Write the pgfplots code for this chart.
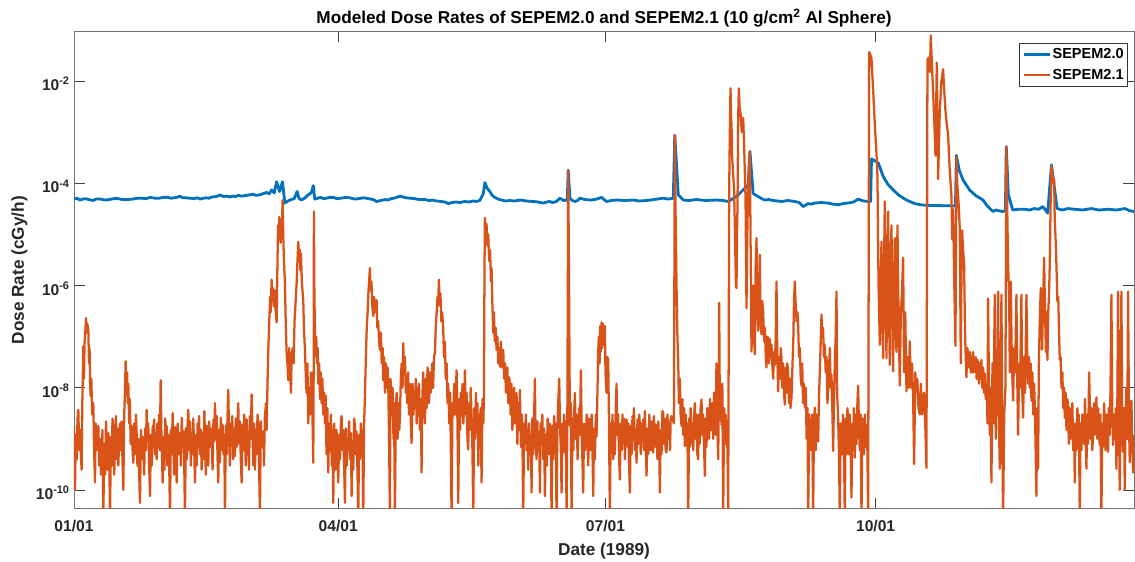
\documentclass[border=0pt]{standalone}
\usepackage{fontspec}
\setmainfont{Liberation Sans}
\usepackage{pgfplots}
\pgfplotsset{compat=1.18}
\definecolor{mblue}{RGB}{0,114,189}
\definecolor{morange}{RGB}{217,83,25}
\definecolor{txt}{RGB}{38,38,38}
\begin{document}
\begin{tikzpicture}
\begin{axis}[
  name=ax,
  scale only axis,
  width=795pt, height=357.75pt,
  xmin=0, xmax=361,
  ymode=log, ymin=4.3e-11, ymax=9.2e-2,
  xtick={0,90,181,273},
  xticklabels={01/01,04/01,07/01,10/01},
  ytick={1e-10,1e-8,1e-6,1e-4,1e-2},
  yticklabels={10\textsuperscript{-10},10\textsuperscript{-8},10\textsuperscript{-6},10\textsuperscript{-4},10\textsuperscript{-2}},
  yminorticks=false, xminorticks=false,
  tick align=inside,
  major tick length=8pt,
  axis line style={black!55, line width=0.6pt},
  every tick/.style={black!75, line width=0.6pt},
  tick label style={font=\fontsize{11.7}{14}\selectfont\bfseries, text=txt},
  x tick label style={anchor=base, yshift=-17.3pt},
  y tick label style={anchor=base east, inner sep=0pt, xshift=-3pt, yshift=-7.3pt},
  every axis title/.style={at={(axis description cs:0.5,1.0176)}, anchor=base, font=\fontsize{12.9}{15}\selectfont\bfseries, text=black},
  every axis x label/.style={at={(axis description cs:0.5,-0.097)}, anchor=base, font=\fontsize{12.9}{15}\selectfont\bfseries, text=txt},
  every axis y label/.style={at={(axis description cs:-0.0472,0.5)}, rotate=90, anchor=base, font=\fontsize{12.9}{15}\selectfont\bfseries, text=txt},
  title={Modeled Dose Rates of SEPEM2.0 and SEPEM2.1 (10 g/cm\textsuperscript{2} Al Sphere)},
  xlabel={Date (1989)},
  ylabel={Dose Rate (cGy/h)},
  legend style={at={(axis description cs:0.99434,0.97694)}, anchor=north east,
    draw=black!80, line width=0.5pt, fill=white,
    font=\fontsize{10.9}{13}\selectfont\bfseries, text=black,
    inner xsep=2pt, inner ysep=3pt, row sep=4.5pt,
    nodes={inner sep=1pt}},
  legend cell align=left,
  legend image code/.code={\draw[#1, line width=1.6pt] (0pt,0pt) -- (20pt,0pt);},
  line join=round,
]
\addplot[mblue, line width=2.1pt] coordinates {
(0,4.9e-5)(1,5.1e-5)(2,4.7e-5)(3,4.9e-5)(4,5.0e-5)(5,4.8e-5)(6.5,4.6e-5)(7.5,4.9e-5)(9,4.9e-5)(10.5,4.7e-5)(12,4.8e-5)(13.5,5.0e-5)(15,5.0e-5)(16.5,4.8e-5)(18,4.8e-5)
(20,4.9e-5)(21.5,5.1e-5)(23,5.1e-5)(24.5,5.0e-5)(26,5.3e-5)(27.5,5.1e-5)(29,5.1e-5)(30.5,5.3e-5)(32,5.3e-5)(33,5.1e-5)(34,5.2e-5)(35,5.3e-5)(36,5.6e-5)(37,5.2e-5)(38,5.2e-5)
(39.5,5.1e-5)(41,5.0e-5)(42,5.2e-5)(43,4.9e-5)(44,5.1e-5)(45,5.2e-5)(46,5.1e-5)(47,5.4e-5)(48.5,5.5e-5)(49.7,5.9e-5)(51,5.5e-5)(52,5.6e-5)(53,5.4e-5)(54,5.6e-5)(55,5.5e-5)(56,5.8e-5)
(57,5.6e-5)(58,5.7e-5)(59.5,5.9e-5)(61,6.1e-5)(62,5.8e-5)(63,5.9e-5)(64.3,6.2e-5)(65.6,6.6e-5)(66.5,6.2e-5)(67.3,7.4e-5)(68.2,6.5e-5)(69,1.07e-4)(70,6.9e-5)
(71,1.07e-4)(71.5,6.0e-5)(71.8,4.1e-5)(72.6,4.4e-5)(73.5,4.7e-5)(75,5.0e-5)(76,6.9e-5)(76.6,5.1e-5)(77.4,4.7e-5)(78.5,5.1e-5)(79.7,5.9e-5)
(80.8,6.5e-5)(81.5,9.0e-5)(82,4.9e-5)(83,5.1e-5)(84,5.3e-5)(85,5.0e-5)(86,5.1e-5)(87,5.3e-5)(88.3,5.3e-5)(89.5,5.0e-5)(91,5.1e-5)(92.5,5.3e-5)(94,5.2e-5)(95.5,4.9e-5)
(97,5.0e-5)(98.5,5.2e-5)(99.6,5.1e-5)(101,4.9e-5)(102,4.8e-5)(103,4.4e-5)(104.5,4.6e-5)(106,4.8e-5)(107,4.7e-5)(108,5.0e-5)(109.5,5.2e-5)(111,5.6e-5)(112,5.4e-5)(113,5.2e-5)(114.5,5.1e-5)
(116,5.0e-5)(117.5,4.8e-5)(119.5,4.8e-5)(121,4.6e-5)(122,4.7e-5)(123.5,4.5e-5)(125,4.4e-5)(126.3,4.3e-5)(127.5,4.0e-5)(128.7,4.2e-5)(130,4.3e-5)(131.5,4.2e-5)(133,4.4e-5)(134.5,4.3e-5)(136,4.5e-5)
(137,4.4e-5)(138.2,4.6e-5)(139.4,6.3e-5)(139.94,1.03e-4)(140.7,8.0e-5)(141.6,6.9e-5)(142.4,5.8e-5)(143.3,5.3e-5)(144.5,4.9e-5)(145.6,4.7e-5)(147,4.5e-5)(148.5,4.6e-5)(150,4.5e-5)(152,4.7e-5)
(154,4.5e-5)(156.4,4.4e-5)(158,4.3e-5)(159.8,4.1e-5)(161,4.3e-5)(162,4.4e-5)(163,4.2e-5)(164.3,4.4e-5)(165.5,5.1e-5)(166.7,4.6e-5)(168.0,4.7e-5)(168.3,1.8e-4)(168.9,5.1e-5)
(169.7,4.6e-5)(170.6,4.4e-5)(171.5,4.6e-5)(172.3,5.1e-5)(174,4.8e-5)(176,4.7e-5)(178,4.9e-5)(179.7,5.3e-5)(180.5,4.8e-5)(181.4,4.4e-5)(183,4.6e-5)(185,4.7e-5)(187.5,4.6e-5)(190.4,4.7e-5)(192.5,4.5e-5)(195,4.6e-5)
(197.5,4.8e-5)(200.7,5.1e-5)(202.5,4.9e-5)(204.1,5.1e-5)(204.6,8.7e-4)(205.8,5.9e-5)(207.5,4.7e-5)(209.5,4.6e-5)(212,4.8e-5)(215,4.6e-5)(218.8,4.7e-5)(221,4.6e-5)(222.8,4.4e-5)
(225.6,5.5e-5)(229.6,9.3e-5)(230.2,4.2e-4)(231.3,6.3e-5)(233,5.5e-5)(234.2,5.0e-5)(235.3,4.7e-5)(236.6,4.8e-5)(238,4.6e-5)(239.5,4.5e-5)(241,4.4e-5)(243,4.6e-5)
(245.5,4.4e-5)(247,4.2e-5)(248.3,3.5e-5)(250,4.0e-5)(251,3.9e-5)(252.3,4.1e-5)(254.5,4.2e-5)(256.8,4.1e-5)(258.5,3.9e-5)(260.2,3.8e-5)(262,4.0e-5)(263.6,4.1e-5)(265.5,4.3e-5)
(267.1,4.9e-5)(268.8,4.5e-5)(270.5,4.4e-5)(271.3,4.4e-5)(271.6,3.0e-4)(273.9,2.5e-4)(275.6,1.35e-4)(277.2,9.5e-5)(279,7.4e-5)(281,5.8e-5)(283.5,4.7e-5)
(286.3,4.0e-5)(288.3,3.8e-5)(290.3,3.7e-5)(300.2,3.6e-5)(300.5,3.5e-4)(301.5,1.8e-4)(302.8,1.15e-4)(305,7.4e-5)(307,5.8e-5)
(309.6,4.7e-5)(311,3.6e-5)(313,2.8e-5)(314,3.0e-5)(315,2.9e-5)(316.2,2.8e-5)(317.2,2.9e-5)(317.5,5.2e-4)(318.2,6.0e-5)(319.7,3.0e-5)
(321.5,3.1e-5)(323.8,3.1e-5)(325.5,3.0e-5)(327,3.2e-5)(328.5,3.1e-5)(330,3.5e-5)(331.6,2.6e-5)(332.9,2.3e-4)(334.8,3.2e-5)(336.5,3.0e-5)(338.5,3.2e-5)(340.8,3.1e-5)(343.5,3.0e-5)(346.5,3.2e-5)
(349,3.0e-5)(352.2,3.1e-5)(355,3.0e-5)(357.9,3.2e-5)(359.5,2.9e-5)(361,2.8e-5)
};
\addlegendentry{SEPEM2.0}
\addplot[morange, line width=1.7pt] coordinates {
(0,1.8e-9)(0.2,3e-10)(0.34,1.0e-10)(0.6,1.2e-9)(0.9,4e-10)(1.2,2.5e-9)(1.47,3.7e-9)(1.8,6e-10)(2.1,1.5e-9)(2.4,4e-10)(2.61,2.5e-10)(2.8,4e-9)
(3.18,6.5e-8)(3.4,1.5e-8)(3.6,8e-8)(3.85,1.2e-7)(4.09,2.3e-7)(4.3,1.2e-7)(4.5,1.8e-7)(4.88,1.4e-7)(5.1,3e-8)(5.3,6e-8)(5.5,1.2e-8)(5.67,6.8e-9)(5.9,1.5e-8)(6.2,3e-9)(6.58,5.0e-9)(6.8,8e-10)(7.15,1.4e-10)(7.4,2e-9)(7.7,6e-10)(8.0,1.2e-9)(8.29,1.8e-9)(8.6,3e-10)(8.9,1e-9)(9.2,2e-10)(9.42,4.0e-10)(9.7,1.5e-9)(9.99,3e-11)(10.3,8e-10)(10.6,2e-10)(10.9,2.2e-9)(11.12,9.8e-10)(11.4,2.5e-10)(11.7,1.3e-9)(12.0,5e-10)(12.26,3e-11)(12.6,1.1e-9)(12.9,3e-10)(13.1,2.5e-9)(13.39,1.8e-9)(13.7,2e-10)(14.0,9e-10)(14.3,2.8e-9)(14.53,4.0e-10)(14.8,1.6e-9)(15.1,3e-10)(15.4,1.1e-9)(15.66,2.0e-9)(15.9,6e-10)(16.2,2.2e-9)(16.5,4e-10)(16.80,1.0e-10)(17.1,3e-9)(17.35,8e-9)(17.59,3.3e-8)(17.8,1e-8)(18.1,2e-8)(18.3,5e-9)(18.50,1.2e-8)(18.8,2e-9)(19.0,6e-9)(19.3,8e-10)(19.63,1.8e-9)(19.9,7e-10)(20.2,3.4e-10)(20.5,2e-9)(20.8,5e-10)(21.1,3e-9)(21.34,1.3e-9)(21.6,3e-10)(21.9,1e-9)(22.2,2e-10)(22.47,5.6e-11)(22.8,1.5e-9)(23.1,4e-10)(23.4,1.1e-9)(23.61,8.3e-10)(23.9,2e-10)(24.2,1.6e-9)(24.5,6e-10)(24.74,3.7e-9)(25.0,9e-10)(25.3,2e-9)(25.6,3e-10)(25.88,7.6e-11)(26.2,1.2e-9)(26.5,3e-10)(26.8,1.8e-9)(27.01,7.2e-10)(27.3,2.4e-9)(27.6,5e-10)(27.9,1.3e-9)(28.15,4.0e-10)(28.4,2e-9)(28.7,7e-10)(29.0,3e-9)(29.25,6e-10)(29.51,1.4e-8)(29.8,1e-9)(30.0,4e-10)(30.19,1.4e-10)(30.5,1.1e-9)(30.8,2.5e-10)(31.1,2.5e-9)(31.3,6e-10)(31.55,1.8e-9)(31.8,3e-10)(32.1,1.2e-9)(32.4,4e-10)(32.69,3e-11)(33.0,1.5e-9)(33.3,5e-10)(33.6,3.2e-9)(33.82,8.3e-10)(34.1,2e-10)(34.4,1.7e-9)(34.7,6e-10)(34.96,1.4e-10)(35.3,2e-9)(35.6,5e-10)(35.9,1.2e-9)(36.09,1.3e-9)(36.4,3e-10)(36.7,2.6e-9)(37.0,7e-10)(37.3,1.4e-9)(37.55,3e-10)(37.79,3e-11)(38.1,1.6e-9)(38.4,4e-10)(38.7,2e-9)(38.93,3.7e-9)(39.2,6e-10)(39.5,2.2e-9)(39.8,3e-10)(40.06,1.1e-9)(40.3,5e-10)(40.6,2.5e-9)(40.9,8e-10)(41.2,1.4e-10)(41.5,1.2e-9)(41.8,3e-10)(42.1,2e-9)(42.33,8.3e-10)(42.6,2.8e-9)(42.9,5e-10)(43.2,1.5e-9)(43.47,2.5e-10)(43.8,1.3e-9)(44.1,4e-10)(44.4,3.5e-9)(44.6,1.1e-9)(44.9,2e-10)(45.2,1.8e-9)(45.5,6e-10)(45.74,3.0e-10)(46.0,2.2e-9)(46.3,7e-10)(46.6,1.6e-9)(46.87,8.3e-10)(47.2,2.5e-10)(47.5,2.4e-9)(47.8,9e-10)(48.01,5.0e-9)(48.3,1e-9)(48.6,2.8e-9)(48.9,4e-10)(49.14,1.4e-10)(49.4,1.5e-9)(49.7,3.5e-10)(50.0,2.6e-9)(50.28,6.2e-10)(50.6,1.9e-9)(50.9,5e-10)(51.2,1.2e-9)(51.41,3e-11)(51.7,1.8e-9)(52.0,5e-10)(52.3,3e-9)(52.55,9.1e-9)(52.8,1.2e-9)(53.1,3e-10)(53.4,2e-9)(53.68,8.3e-10)(53.9,2.8e-9)(54.2,4e-10)(54.5,1.6e-9)(54.82,4.6e-10)(55.1,2.5e-9)(55.4,7e-10)(55.7,1.8e-9)(55.95,5.0e-9)(56.2,8e-10)(56.5,2.2e-9)(56.8,4e-10)(57.09,1.4e-10)(57.4,1.9e-9)(57.7,6e-10)(58.0,3e-9)(58.22,1.1e-9)(58.5,3e-10)(58.8,2.4e-9)(59.1,9e-10)(59.36,8.3e-10)(59.6,2.5e-10)(59.9,2.8e-9)(60.2,1e-9)(60.49,7.4e-9)(60.8,1.2e-9)(61.1,3e-10)(61.4,2e-9)(61.63,2.5e-10)(61.9,1.5e-9)(62.2,5e-10)(62.5,3e-9)(62.76,1.8e-9)(63.0,4e-10)(63.33,3e-11)(63.6,2.2e-9)(63.9,7e-10)(64.2,1.4e-9)(64.46,1.3e-9)(64.7,3e-10)(65.0,2.6e-9)(65.37,5.0e-9)(65.6,1.5e-9)(65.9,1.2e-8)
(66.17,5.5e-8)(66.5,2e-7)(66.8,6e-7)(67.0,3e-7)(67.3,1.3e-6)(67.5,5e-7)(67.8,9e-7)(68.1,3.9e-7)(68.4,8e-7)(68.7,3e-7)(69.0,1.9e-7)(69.3,3e-6)(69.5,1.5e-5)(69.7,8e-6)(69.91,2.2e-5)(70.1,1e-5)(70.37,6.8e-6)(70.6,2e-5)(70.8,1.2e-5)(71.05,4.7e-5)(71.3,8e-6)(71.5,3e-6)(71.84,1.1e-6)(72.1,2e-7)(72.4,5e-8)(72.7,3e-8)(72.98,1.4e-8)(73.3,6e-8)(73.6,2e-8)(73.9,8e-9)(74.11,4.1e-8)(74.5,6e-8)(74.8,3e-8)(75.1,2e-7)(75.5,5e-7)(75.81,1.1e-6)(76.1,3e-6)(76.38,7.2e-6)(76.6,3e-6)(76.9,5e-6)(77.1,2e-6)(77.29,4.3e-6)(77.6,1.2e-6)(77.8,8e-7)(78.08,5.2e-7)(78.3,1.5e-7)(78.65,5.5e-8)(78.9,2e-8)(79.2,8e-9)(79.5,3e-8)(79.78,2.0e-9)(80.1,1e-8)(80.4,3e-9)(80.7,2e-8)(80.92,1.2e-8)(81.2,3e-9)(81.49,3.4e-10)(81.6,1e-8)(81.71,2.8e-5)(81.85,1e-6)(82.0,2e-7)(82.28,4.1e-8)(82.5,1e-7)(82.8,3e-8)(83.0,6e-8)(83.19,1.2e-8)(83.5,3e-8)(83.8,6e-9)(84.0,2e-8)(84.32,5.0e-9)(84.6,1.5e-8)(84.9,3e-9)(85.2,8e-9)(85.46,2.0e-9)(85.7,7e-9)(86.0,5e-10)(86.3,4e-9)(86.59,2.2e-10)(86.9,2e-9)(87.2,6e-10)(87.5,3e-9)(87.8,3e-10)(88.0,1.5e-9)(88.3,5.6e-11)(88.6,2e-9)(88.86,8.3e-10)(89.1,2.5e-10)(89.4,1.5e-9)(89.7,5e-10)(90.0,1.4e-10)(90.3,1.2e-9)(90.6,4e-10)(90.9,2e-9)(91.13,2.8e-9)(91.4,6e-10)(91.7,1.5e-9)(92.0,3e-10)(92.27,5.6e-11)(92.6,1.6e-9)(92.9,3e-10)(93.1,1e-9)(93.4,6.2e-10)(93.7,2.2e-9)(94.0,4e-10)(94.3,1.3e-9)(94.54,7.6e-11)(94.8,9e-10)(95.1,2.5e-10)(95.4,2.5e-9)(95.67,1.8e-9)(95.9,5e-10)(96.2,1.4e-9)(96.5,3e-10)(96.81,3e-11)(97.1,1.2e-9)(97.4,4e-10)(97.7,2e-9)(97.94,6.2e-10)(98.2,1.5e-9)(98.51,3e-11)(98.8,2e-9)(99.08,6.8e-9)(99.4,4e-8)(99.7,1.5e-7)(100.0,3e-7)(100.3,8e-7)(100.5,1.2e-6)(100.78,2.2e-6)(101.0,8e-7)(101.3,1.2e-6)(101.6,4e-7)(101.92,2.5e-7)(102.2,6e-7)(102.5,3e-7)(102.8,4e-7)(103.05,5.2e-7)(103.3,1.5e-7)(103.6,2e-7)(103.9,8e-8)(104.19,5.5e-8)(104.5,1.2e-7)(104.8,3e-8)(105.1,6e-8)(105.32,1.4e-8)(105.6,4e-8)(105.9,8e-9)(106.2,3e-8)(106.5,1e-8)(106.8,2.5e-8)(107.02,1.2e-8)(107.3,1e-9)(107.59,3e-11)(107.8,1.5e-8)(108.16,5.0e-9)(108.5,1e-8)(108.8,1e-9)(109.0,5e-9)(109.29,3e-11)(109.6,4e-9)(109.9,8e-9)(110.2,1e-9)(110.5,5e-9)(110.8,1.5e-9)(111.0,2.8e-9)(111.3,1.5e-8)(111.6,3e-8)(111.9,1e-8)(112.13,7.4e-8)(112.4,2e-8)(112.7,4e-8)(113.0,8e-9)(113.27,1.7e-8)(113.5,5e-9)(113.8,2e-8)(114.1,3e-9)(114.4,1.2e-8)(114.7,2e-9)(114.97,8.3e-10)(115.3,1.2e-8)(115.6,3e-9)(115.9,8e-9)(116.1,5.0e-9)(116.4,1.5e-8)(116.7,2e-9)(117.0,1e-8)(117.24,2.8e-9)(117.5,1.2e-8)(117.8,1.5e-9)(118.1,6e-9)(118.37,2.2e-10)(118.6,5e-9)(118.9,2e-8)(119.2,4e-9)(119.51,2.0e-9)(119.8,1.5e-8)(120.1,4e-9)(120.4,2.5e-8)(120.64,1.9e-8)(120.9,5e-9)(121.2,2e-8)(121.5,8e-9)(121.78,1.2e-8)(122.0,3e-8)(122.3,1e-8)(122.6,4e-8)(122.91,4.8e-8)(123.2,1.5e-7)(123.5,3e-7)(123.8,6e-7)(124.0,4e-7)(124.28,1.3e-6)(124.5,5e-7)(124.8,7e-7)(125.1,2e-7)(125.4,3e-7)(125.75,1.4e-7)(126.0,4e-8)(126.3,8e-8)(126.6,1.5e-8)(126.9,3e-8)(127.2,5e-9)(127.45,1.2e-8)(127.8,2e-9)(128.1,8e-9)(128.3,1e-9)(128.59,3e-11)(128.9,5e-9)(129.16,2.8e-9)(129.5,1.2e-8)(129.8,3e-9)(130.05,8e-9)(130.29,2.2e-8)(130.6,2e-9)(130.86,5.6e-11)(131.2,6e-9)(131.5,1.5e-9)(131.7,8e-9)(132.0,2.8e-9)(132.3,1.2e-8)(132.6,2e-9)(132.9,5e-9)(133.13,2.2e-8)(133.4,3e-9)(133.7,8e-9)(134.0,1e-9)(134.26,6.2e-10)(134.5,5e-9)(134.8,1.5e-9)(135.1,1e-8)(135.4,2.8e-9)(135.7,6e-10)(135.97,3e-11)(136.3,4e-9)(136.6,1e-9)(136.9,8e-9)(137.1,1.5e-9)(137.4,5e-9)(137.7,3e-10)(138.0,3e-9)(138.23,8.3e-10)(138.5,4e-9)(138.8,1.4e-10)(139.1,6e-9)(139.4,2e-9)(139.6,6.8e-9)(139.8,2e-6)(139.94,2.1e-5)(140.2,1.2e-5)(140.5,1.6e-5)(140.8,6e-6)(141.07,1.0e-5)(141.4,3e-6)(141.7,5e-6)(142.0,1.2e-6)(142.21,2.2e-6)(142.5,4e-7)(142.77,1.2e-7)(143.0,3e-7)(143.3,8e-8)(143.6,1.5e-7)(143.91,5.5e-8)(144.2,1e-7)(144.5,3e-8)(144.8,6e-8)(145.04,2.6e-8)(145.4,8e-8)(145.7,2.5e-8)(146.0,4e-8)(146.18,5.5e-8)(146.5,1.5e-8)(146.8,3e-8)(147.1,8e-9)(147.32,1.4e-8)(147.6,2.5e-8)(147.9,5e-9)(148.2,1.6e-8)(148.45,1.1e-8)(148.7,3e-9)(149.0,1.2e-8)(149.3,1.5e-9)(149.59,3.2e-9)(149.9,1e-8)(150.2,2e-9)(150.5,6e-9)(150.72,7.9e-9)(151.0,8e-10)(151.3,5e-9)(151.6,1.5e-9)(151.86,9.1e-9)(152.2,7e-10)(152.5,3e-9)(152.8,4e-10)(152.99,3e-11)(153.3,2e-9)(153.56,1.1e-9)(153.9,3e-9)(154.2,6e-10)(154.5,1.5e-9)(154.7,2.5e-10)(155.0,2e-9)(155.3,7e-10)(155.6,1.2e-9)(155.83,8.9e-11)(156.1,2.5e-9)(156.4,5e-10)(156.7,3e-9)(156.97,1.5e-8)(157.2,1e-9)(157.53,4.0e-10)(157.8,2.2e-9)(158.1,6e-10)(158.4,1.4e-9)(158.67,8.9e-11)(158.9,2e-9)(159.24,1.1e-9)(159.5,3e-9)(159.8,4e-10)(160.1,1.6e-9)(160.37,7.6e-11)(160.7,1.2e-9)(161.0,3e-10)(161.3,2.5e-9)(161.51,1.5e-9)(161.8,5e-10)(162.1,2e-9)(162.4,6e-10)(162.64,3e-11)(162.9,1.8e-9)(163.2,4e-10)(163.5,2.8e-9)(163.78,7.2e-10)(164.0,2e-9)(164.34,3e-11)(164.6,1.5e-9)(164.9,5e-9)(165.25,1.5e-8)(165.5,2e-9)(165.8,6e-10)(166.05,8.9e-11)(166.4,2e-9)(166.7,6e-10)(166.9,3e-9)(167.18,5.4e-10)(167.5,2.2e-9)(167.75,3e-11)(168.0,1.5e-9)(168.32,1.8e-4)(168.6,1e-6)(168.88,1.8e-9)(169.2,5e-9)(169.45,3e-11)(169.8,2.5e-9)(170.1,6e-10)(170.3,3e-9)(170.59,7.9e-9)(170.9,1e-9)(171.2,3e-9)(171.5,4e-10)(171.72,9.8e-10)(172.0,4e-9)(172.3,1.2e-9)(172.63,2.2e-8)(172.9,1.5e-9)(173.1,5e-10)(173.42,8.9e-11)(173.7,2e-9)(174.0,6e-10)(174.33,8.3e-10)(174.6,3e-9)(174.9,7e-10)(175.13,3.0e-10)(175.4,2.5e-9)(175.69,1.8e-9)(176.0,6e-10)(176.3,3e-9)(176.6,5e-10)(176.83,7.6e-11)(177.1,1.6e-9)(177.4,4e-10)(177.7,3e-9)(177.96,1.1e-9)(178.3,1e-8)(178.5,5e-8)(178.76,1.0e-7)(179.0,3e-8)(179.2,1.6e-7)(179.4,5e-8)(179.67,1.9e-7)(179.9,6e-8)(180.1,1.8e-7)(180.4,7e-8)(180.6,1.5e-7)(180.8,1.6e-7)(181.0,2e-8)(181.37,7.9e-9)(181.6,4e-8)(181.94,3.5e-8)(182.2,2e-9)(182.5,3e-11)(182.8,2e-9)(183.1,6e-10)(183.4,3e-9)(183.64,4.0e-10)(183.9,2e-9)(184.2,5e-10)(184.5,4e-9)(184.77,1.2e-8)(185.0,1.2e-9)(185.3,3e-9)(185.6,5e-10)(185.91,1.6e-10)(186.2,2e-9)(186.5,6e-10)(186.8,3e-9)(187.04,8.3e-10)(187.3,2.5e-9)(187.6,4e-10)(187.9,1.5e-9)(188.18,2.4e-9)(188.5,7e-10)(188.8,2e-9)(189.0,4e-10)(189.31,8.9e-11)(189.6,1.8e-9)(189.9,5e-10)(190.2,2.8e-9)(190.45,1.1e-9)(190.7,4e-9)(191.0,6e-10)(191.3,1.5e-9)(191.58,3.4e-10)(191.9,2.4e-9)(192.2,8e-10)(192.5,3e-9)(192.72,1.8e-9)(193.0,5e-10)(193.3,2e-9)(193.6,9e-10)(193.85,2.4e-9)(194.1,6e-10)(194.4,3.5e-9)(194.7,1e-9)(194.99,1.9e-10)(195.3,1.6e-9)(195.6,5e-10)(195.9,3e-9)(196.12,1.8e-9)(196.4,6e-10)(196.7,2.2e-9)(197.0,9e-10)(197.26,5.4e-10)(197.5,2.8e-9)(197.8,7e-10)(198.1,1.9e-9)(198.39,1.3e-9)(198.7,4e-10)(199.0,2.2e-9)(199.3,7e-10)(199.53,8.9e-11)(199.8,1.5e-9)(200.1,5e-10)(200.4,3.5e-9)(200.66,3.2e-9)(200.9,8e-10)(201.2,2.5e-9)(201.5,6e-10)(201.8,5.4e-10)(202.1,3e-9)(202.4,1e-9)(202.7,2e-9)(203.0,6e-10)(203.2,2.5e-9)(203.5,2.8e-9)(204.3,2e-9)(204.63,8.7e-4)(204.9,2e-5)(205.2,1e-6)(205.5,1e-7)(205.77,3.5e-8)(206.0,5e-9)(206.3,1.5e-8)(206.6,3e-9)(206.9,1.8e-9)(207.2,6e-9)(207.5,1.2e-9)(207.8,4e-9)(208.04,7.2e-10)(208.3,3e-9)(208.6,8e-10)(208.9,2e-9)(209.17,3e-11)(209.5,2.5e-9)(209.8,7e-10)(210.0,4e-9)(210.31,8.3e-10)(210.6,2e-9)(210.9,6e-10)(211.2,3e-9)(211.44,5.0e-9)(211.7,1e-9)(212.0,3e-9)(212.3,5e-10)(212.58,4.0e-10)(212.8,3e-9)(213.1,8e-10)(213.4,4e-9)(213.71,5.9e-9)(214.0,1.2e-9)(214.3,3e-9)(214.6,6e-10)(214.85,1.9e-10)(215.1,2.5e-9)(215.4,7e-10)(215.7,4e-9)(215.98,3.7e-9)(216.3,1e-9)(216.6,6e-9)(216.9,1.5e-9)(217.12,1.5e-9)(217.4,5e-9)(217.7,1e-9)(218.0,8e-9)(218.25,4.4e-9)(218.5,1.2e-9)(218.8,3e-8)(219.1,2e-9)(219.39,4.0e-10)(219.6,5e-9)(219.73,4.6e-7)(219.9,1e-8)(220.2,5e-9)(220.52,1.9e-9)(220.8,1.2e-8)(221.09,3e-11)(221.4,4e-9)(221.65,7.8e-10)(221.9,3e-9)(222.2,1.5e-9)(222.56,5.8e-10)(222.79,3e-11)
(223.13,6.9e-5)(223.35,1e-3)(223.58,7.2e-3)(223.8,2e-3)(224.0,1e-3)(224.15,3.1e-4)(224.5,1.5e-4)(224.83,6.9e-5)(225.2,5e-6)(225.45,1e-6)(225.63,8.9e-7)(225.8,1e-5)(225.97,3.8e-5)(226.2,2e-3)(226.42,7.2e-3)(226.7,3e-3)(227.1,2.1e-3)(227.4,1e-3)(227.6,1.5e-3)(227.9,1.9e-3)(228.2,6e-4)(228.46,1.7e-4)(228.7,5e-5)(229.03,3.6e-7)(229.3,1e-5)(229.6,9.3e-5)(229.9,2.5e-4)(230.17,4.2e-4)(230.4,1e-5)(230.73,5.1e-8)(231.0,2e-7)(231.3,1.0e-6)(231.6,1e-7)(231.87,4.5e-8)(232.1,2e-6)(232.44,8.5e-6)(232.7,3e-7)(233.0,1.3e-7)(233.3,1e-6)(233.57,4.0e-6)(233.8,2e-7)(234.14,1.1e-7)(234.4,5e-7)(234.7,3e-7)(235.05,8.1e-8)(235.3,1.5e-7)(235.6,4e-8)(235.84,2.5e-8)(236.1,1e-7)(236.41,9.3e-8)(236.7,3e-8)(237.0,9e-8)(237.3,4e-8)(237.54,6.9e-8)(237.8,3e-8)(238.11,1.5e-8)(238.4,5e-8)(238.68,2.8e-8)(239.0,1e-7)(239.25,1.2e-6)(239.5,5e-8)(239.81,8.5e-9)(240.1,4e-8)(240.4,1.5e-8)(240.7,6e-8)(240.95,3.8e-8)(241.2,1e-8)(241.5,3e-8)(241.8,8e-9)(242.08,4.7e-9)(242.4,2.5e-8)(242.7,8e-9)(242.9,3e-8)(243.22,2.1e-8)(243.5,5e-9)(243.8,1.5e-8)(244.0,4e-9)(244.35,6.3e-9)(244.7,3e-8)(245.0,1e-7)(245.2,5e-7)(245.49,1.2e-6)(245.8,4e-7)(246.1,2e-7)(246.4,3e-7)(246.62,1.7e-7)(246.9,4e-8)(247.2,6e-8)(247.5,1.5e-8)(247.76,1.1e-8)(248.0,3e-8)(248.3,5e-9)(248.6,1.2e-8)(248.89,4.1e-9)(249.2,1e-8)(249.5,1e-9)(249.8,4e-9)(250.03,3e-11)(250.4,3e-9)(250.7,6e-10)(250.9,2e-9)(251.16,8.9e-10)(251.4,3e-9)(251.73,3e-11)(252.0,2e-9)(252.3,4.1e-9)(252.6,6e-10)(252.9,3e-9)(253.1,1e-9)(253.43,8.9e-10)(253.7,6e-9)(254.0,2e-8)(254.3,8e-8)(254.57,2.7e-7)(254.8,1e-7)(255.1,1.5e-7)(255.4,4e-8)(255.7,6.9e-8)(256.0,2e-8)(256.3,4e-8)(256.6,5e-9)(256.84,8.5e-9)(257.1,2e-8)(257.41,6.0e-8)(257.7,1e-8)(257.97,1.8e-8)(258.3,3e-9)(258.54,5.8e-10)(258.8,5e-9)(259.1,3e-8)(259.4,1e-7)(259.68,7.6e-7)(259.9,8e-9)(260.2,3e-9)(260.5,6e-10)(260.81,3e-11)(261.1,2e-9)(261.38,1.9e-9)(261.6,5e-10)(261.9,3e-9)(262.2,8e-10)(262.51,3e-11)(262.8,2.5e-9)(263.1,5e-10)(263.4,4e-9)(263.65,2.2e-9)(263.9,5e-10)(264.2,3e-9)(264.5,8e-10)(264.78,7.1e-11)(265.1,2e-9)(265.4,6e-10)(265.6,4e-9)(265.92,4.3e-10)(266.2,3e-9)(266.5,8e-10)(266.8,5e-9)(267.05,1.1e-8)(267.3,2e-9)(267.6,6e-10)(267.9,3e-9)(268.19,3e-11)(268.5,2.5e-9)(268.75,1.9e-9)(269.0,5e-10)(269.3,3e-9)(269.6,7e-10)(269.89,1.9e-9)(270.2,6e-10)(270.46,3e-11)
(270.8,3.7e-2)(271.2,3.3e-2)(271.59,2.8e-2)(272.2,6e-3)(272.73,1.4e-3)(273.2,5e-4)(273.63,1.4e-4)(274.0,1e-6)(274.43,6.9e-8)(274.7,1e-6)(275.0,7.2e-6)(275.3,2e-7)(275.56,3.8e-8)(275.85,2e-6)(276.13,4.4e-5)(276.4,1e-6)(276.7,3.8e-8)(277.0,3e-6)(277.27,2.8e-5)(277.5,5e-7)(277.83,2.8e-8)(278.1,2e-6)(278.4,1.5e-5)(278.7,4e-7)(278.97,2.1e-8)(279.25,1e-6)(279.54,8.5e-6)(279.8,2e-7)(280.1,5e-8)(280.44,1.5e-5)(280.8,3e-7)(281.24,1.1e-8)(281.6,3e-7)(282.0,8e-7)(282.37,3.5e-6)(282.7,2e-8)(283.1,3e-7)(283.51,8.5e-9)(283.8,4e-8)(284.2,1e-8)(284.64,8.1e-8)(285.0,1e-8)(285.4,3e-8)(285.78,6.3e-9)(286.12,3.2e-10)(286.5,2e-8)(286.91,8.5e-9)(287.2,1.5e-8)(287.6,4e-9)(288.05,3.0e-9)(288.4,1.2e-8)(288.8,3e-9)(289.18,5.5e-9)(289.5,8e-9)(289.9,2e-9)(290.32,2.7e-10)
(290.66,2.6e-2)(291.11,2.9e-2)(291.5,1.5e-2)(291.79,7.8e-2)(292.2,2e-2)(292.59,5.8e-3)(293.0,1.5e-3)(293.38,3.5e-4)(293.84,2.3e-2)(294.29,1.2e-4)(294.86,2.6e-3)(295.4,1e-2)(295.99,1.7e-2)(296.4,6e-3)(296.79,2.6e-3)(297.2,1.5e-3)(297.69,8.9e-4)(298.2,2e-4)(298.83,5.6e-5)(299.1,8e-6)(299.4,3.1e-5)(299.8,1e-6)(300.19,6.6e-8)(300.53,3.3e-4)
(300.8,1e-4)(301.1,5.6e-5)(301.4,3e-5)(301.67,1.2e-5)(302.01,3.0e-8)(302.2,8e-7)(302.46,1.2e-5)(302.8,5e-6)(303.14,2.6e-6)(303.4,2e-7)(303.6,5.6e-8)(303.94,1.6e-8)(304.2,6e-8)(304.5,4.8e-8)(304.8,2.5e-8)(305.1,5e-8)(305.4,2e-8)(305.64,4.2e-8)(305.9,2e-8)(306.2,5e-8)(306.5,2e-8)(306.77,2.6e-8)(307.1,4e-8)(307.4,1.5e-8)(307.7,3.5e-8)(307.91,3.0e-8)(308.2,1.2e-8)(308.5,3e-8)(308.8,1.5e-8)(309.04,3.5e-8)(309.3,1e-8)(309.6,2.5e-8)(309.9,8e-9)(310.18,1.9e-8)(310.5,6e-9)(310.86,1.2e-8)(311.1,2e-9)(311.31,5.6e-7)(311.6,1e-8)(311.88,1.2e-9)(312.1,1e-8)(312.45,1.4e-10)(312.8,3e-8)(313.1,2e-9)(313.58,6.6e-7)(313.9,1e-9)(314.2,8e-9)(314.45,3e-9)(314.72,7.6e-7)(315.0,2e-9)(315.29,2.6e-10)(315.6,5e-9)(315.85,6.6e-7)(316.1,3e-9)(316.42,3e-11)(316.8,3e-9)(317.2,1e-8)(317.56,5.2e-4)(317.8,4e-5)(318.12,2.6e-6)(318.5,5e-7)(318.7,2e-8)(319.03,1.2e-6)(319.4,3e-8)(319.83,5.6e-9)(320.2,6e-8)(320.5,2e-8)(320.96,6.6e-7)(321.2,2e-8)(321.53,1.2e-9)(321.9,3e-8)(322.2,1e-8)(322.66,6.6e-7)(322.9,1e-8)(323.23,2.6e-9)(323.6,4e-8)(323.9,8e-9)(324.1,5e-8)(324.37,6.6e-7)(324.65,3e-8)(324.93,1.2e-8)(325.2,4e-8)(325.5,1e-8)(325.8,3e-8)(326.07,5.6e-9)(326.4,2e-8)(326.7,3e-9)(326.98,1.2e-8)(327.3,3e-9)(327.5,6e-10)(327.77,7.6e-11)(328.0,4e-9)(328.34,2.6e-10)(328.6,3e-8)(328.9,2e-7)(329.25,8.9e-7)(329.5,2e-7)(329.7,5.6e-8)(330.0,4e-7)(330.38,3.5e-6)(330.7,3e-7)(331.0,5e-8)(331.25,3e-7)(331.52,3.5e-8)(331.8,3e-7)(332.1,8e-7)(332.31,2.6e-6)(332.6,4e-5)(332.88,2.2e-4)(333.2,1.5e-4)(333.5,1e-4)(333.79,1.2e-4)(334.0,2e-5)(334.3,8e-6)(334.58,2.6e-6)(334.9,5e-7)(335.2,6e-7)(335.5,1e-7)(335.72,3.5e-8)(336.0,4e-8)(336.3,1e-8)(336.6,2e-8)(336.9,4e-9)(337.2,1e-8)(337.42,2.6e-9)(337.7,8e-9)(338.0,1.5e-9)(338.3,6e-9)(338.55,4.8e-9)(338.8,8e-10)(339.1,4e-9)(339.4,1e-9)(339.69,1.4e-9)(340.0,5e-9)(340.3,6e-10)(340.6,2e-9)(340.82,1.4e-10)(341.1,2e-9)(341.4,6e-10)(341.7,4e-9)(341.96,1.2e-9)(342.2,3e-9)(342.53,3e-11)(342.8,2e-9)(343.1,6e-10)(343.4,3e-9)(343.66,2.6e-9)(344.0,8e-10)(344.3,6e-9)(344.55,1e-9)(344.8,2.6e-10)(345.1,3e-9)(345.4,8e-10)(345.7,2e-8)(345.93,5.6e-9)(346.2,1e-9)(346.5,4e-9)(346.8,6e-10)(347.07,1.2e-9)(347.4,5e-9)(347.7,1.2e-9)(348.0,3e-9)(348.2,6.5e-9)(348.5,1e-9)(348.8,4e-9)(349.1,1.4e-9)(349.33,7.6e-10)(349.6,3e-9)(349.9,3e-11)(350.2,2e-9)(350.5,7e-10)(350.8,5e-9)(351.04,2.2e-9)(351.3,6e-10)(351.6,3e-9)(351.9,8e-10)(352.17,5.6e-10)(352.4,4e-9)(352.74,1.2e-9)(353.0,1e-8)(353.31,6.6e-7)(353.6,3e-9)(353.88,7.6e-10)(354.2,3e-9)(354.5,1e-9)(354.8,4e-9)(355.01,2.6e-10)(355.3,3e-9)(355.58,7.6e-7)(355.9,2e-9)(356.14,1.0e-10)(356.4,3e-9)(356.71,7.6e-7)(357.0,1.5e-9)(357.28,5.6e-10)(357.6,4e-9)(357.85,1.0e-10)(358.1,2e-9)(358.41,1.0e-8)(358.7,1e-9)(358.98,7.6e-7)(359.3,2e-9)(359.55,3.5e-10)(359.8,4e-9)(360.12,5.6e-9)(360.4,8e-10)(360.68,2.2e-10)(361,1.2e-9)
};
\addlegendentry{SEPEM2.1}
\end{axis}
\pgfresetboundingbox
\path[use as bounding box] ([xshift=-55.5pt,yshift=-39.2pt]ax.south west) rectangle ([xshift=0.75pt,yshift=23.8pt]ax.north east);
\end{tikzpicture}
\end{document}
